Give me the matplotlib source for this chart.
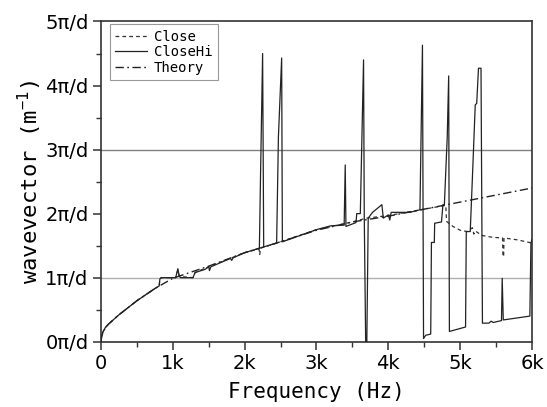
import matplotlib
matplotlib.use("Agg")
import matplotlib.pyplot as plt
from matplotlib.ticker import MultipleLocator, FixedLocator

# ---------------- data (frequency in kHz, wavevector in units of pi/d) ----------------
theory_f = [0.0, 0.01, 0.03, 0.06, 0.1, 0.25, 0.5, 0.75, 1.0, 1.5, 2.0, 2.5, 3.0, 3.5,
            4.0, 4.5, 5.0, 5.5, 6.0]
theory_y = [0.0, 0.08, 0.15, 0.21, 0.27, 0.42, 0.64, 0.83, 0.99, 1.18, 1.39, 1.56, 1.74,
            1.87, 1.96, 2.07, 2.18, 2.29, 2.40]

close_f = [0.0, 0.01, 0.03, 0.06, 0.1, 0.25, 0.5, 0.75, 0.81, 0.82, 0.84, 1.04, 1.07, 1.09,
           1.28, 1.31, 1.5, 2.0, 2.2, 2.21, 2.22, 2.5, 3.0, 3.5, 3.7, 4.0, 4.5, 4.80,
           4.81, 4.83, 4.9, 5.0, 5.1, 5.17, 5.19, 5.21, 5.3, 5.45, 5.59, 5.595, 5.605,
           5.61, 5.8, 6.0]
close_y = [0.02, 0.09, 0.16, 0.22, 0.27, 0.42, 0.64, 0.83, 0.87, 0.98, 1.0, 1.0, 1.12, 1.02,
           1.0, 1.08, 1.17, 1.39, 1.45, 1.36, 1.46, 1.56, 1.75, 1.87, 1.93, 1.97, 2.07, 2.13,
           1.88, 1.86, 1.80, 1.74, 1.72, 1.78, 1.68, 1.73, 1.66, 1.63, 1.62, 1.33, 1.33,
           1.62, 1.59, 1.54]

closehi_f = [0.0, 0.01, 0.03, 0.06, 0.1, 0.25, 0.5, 0.75, 0.81, 0.82, 0.84, 1.04, 1.07, 1.09,
             1.11, 1.28, 1.31, 1.45, 1.5, 1.51, 1.53, 1.8, 1.82, 1.84, 2.0, 2.205, 2.22,
             2.25, 2.265, 2.445, 2.47, 2.515, 2.525, 2.75, 3.0, 3.2, 3.385, 3.40, 3.41,
             3.55, 3.56, 3.61, 3.655, 3.665, 3.685, 3.70, 3.72, 3.78, 3.91, 3.93, 4.0,
             4.02, 4.04, 4.3, 4.44, 4.475, 4.49, 4.52, 4.59, 4.60, 4.64, 4.645, 4.74,
             4.76, 4.78, 4.82, 4.84, 4.85, 5.075, 5.085, 5.14, 5.16, 5.21, 5.23, 5.255,
             5.29, 5.31, 5.40, 5.43, 5.46, 5.575, 5.585, 5.60, 5.97, 5.985, 6.0]
closehi_y = [0.02, 0.09, 0.16, 0.22, 0.27, 0.42, 0.64, 0.83, 0.87, 0.98, 1.0, 1.0, 1.14, 1.02,
             1.0, 1.0, 1.08, 1.13, 1.17, 1.11, 1.17, 1.30, 1.27, 1.31, 1.39, 1.46, 2.53,
             4.50, 1.48, 1.54, 3.20, 4.43, 1.56, 1.65, 1.75, 1.81, 1.82, 2.76, 1.80,
             1.86, 2.00, 2.00, 4.40, 1.95, -0.05, -0.05, 1.93, 2.02, 2.14, 1.93, 1.98,
             1.90, 2.02, 2.02, 2.06, 4.63, 0.05, 0.10, 0.12, 1.55, 1.55, 1.85, 1.87,
             2.14, 2.14, 3.20, 4.15, 0.16, 0.23, 1.72, 1.72, 2.27, 3.70, 3.72, 4.27,
             4.27, 0.29, 0.29, 0.32, 0.30, 0.33, 0.99, 0.34, 0.40, 1.54, 1.60]

x_ticks = [0, 1, 2, 3, 4, 5, 6]
x_labels = ["0", "1k", "2k", "3k", "4k", "5k", "6k"]
y_ticks = [0, 1, 2, 3, 4, 5]
y_labels = ["0\u03c0/d", "1\u03c0/d", "2\u03c0/d", "3\u03c0/d", "4\u03c0/d", "5\u03c0/d"]

# ---------------- figure ----------------
plt.rcParams["mathtext.fontset"] = "custom"
plt.rcParams["mathtext.rm"] = "DejaVu Sans Mono"
plt.rcParams["mathtext.it"] = "DejaVu Sans Mono"

fig = plt.figure(figsize=(5.47, 4.07), dpi=100)
ax = fig.add_axes([0.1846, 0.1604, 0.788, 0.7868])

ax.axhline(1, color="#b0b0b0", lw=1.0, zorder=1)
ax.axhline(3, color="#808080", lw=1.0, zorder=1)

ax.plot(close_f, close_y, color="#333333", lw=0.9, ls=(0, (3, 2.5)), label="Close", zorder=3)
ax.plot(closehi_f, closehi_y, color="#222222", lw=0.9, ls="-", label="CloseHi", zorder=4)
ax.plot(theory_f, theory_y, color="#222222", lw=1.0, ls=(0, (6, 2.5, 1.2, 2.5)),
        label="Theory", zorder=5)

ax.set_xlim(0, 6)
ax.set_ylim(0, 5)
ax.xaxis.set_major_locator(FixedLocator(x_ticks))
ax.set_xticklabels(x_labels)
ax.yaxis.set_major_locator(FixedLocator(y_ticks))
ax.set_yticklabels(y_labels)
ax.xaxis.set_minor_locator(MultipleLocator(0.5))
ax.yaxis.set_minor_locator(MultipleLocator(0.5))
ax.tick_params(which="major", direction="out", length=6, width=1.1, color="#333333",
               labelsize=14, pad=3)
ax.tick_params(which="minor", direction="out", length=3.5, width=1.0, color="#333333")
ax.tick_params(top=False, right=False, which="both")

for s in ax.spines.values():
    s.set_color("#333333")
    s.set_linewidth(1.2)

ax.set_xlabel("Frequency (Hz)", family="DejaVu Sans Mono", fontsize=15, labelpad=6)
ax.set_ylabel("wavevector (m$^{-1}$)", family="DejaVu Sans Mono", fontsize=16, labelpad=1)

leg = ax.legend(loc="upper left", bbox_to_anchor=(109.5 / 547, 1 - 24 / 407),
                bbox_transform=fig.transFigure, borderaxespad=0,
                prop={"family": "DejaVu Sans Mono", "size": 10},
                handlelength=2.3, handletextpad=0.5, labelspacing=0.12, borderpad=0.4,
                fancybox=False, framealpha=1, edgecolor="#999999")
leg.get_frame().set_linewidth(0.8)

fig.savefig("out.png", dpi=100)
